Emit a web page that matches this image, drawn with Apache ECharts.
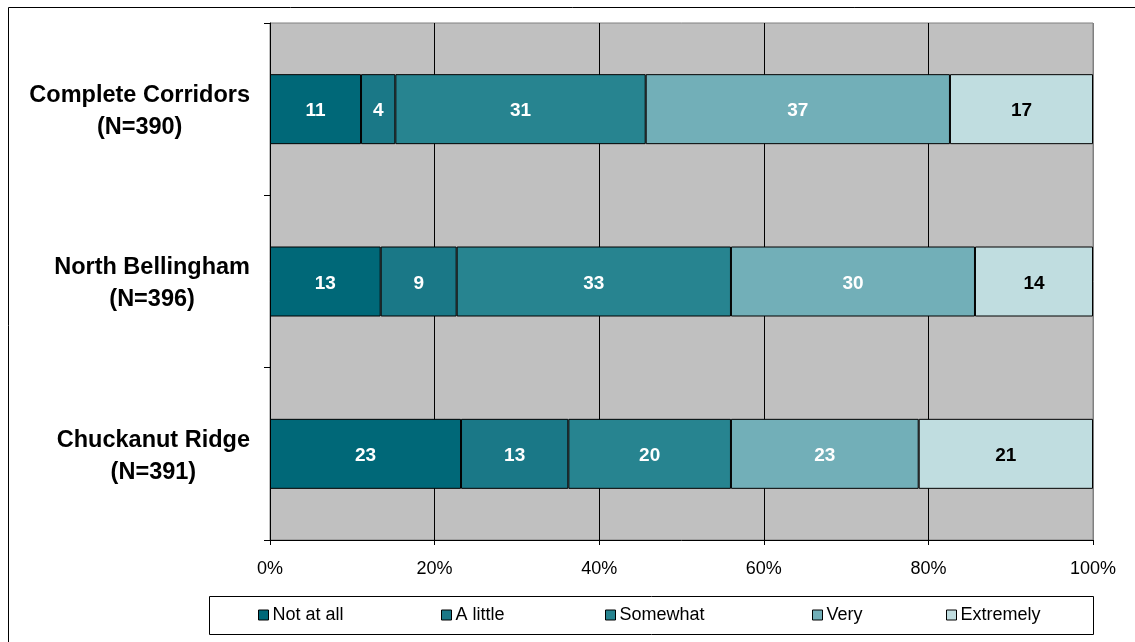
<!DOCTYPE html>
<html>
<head>
<meta charset="utf-8">
<script src="https://cdn.jsdelivr.net/npm/echarts@6/dist/echarts.min.js"></script>
<style>
html,body{margin:0;padding:0;background:#fff;}
#chart{width:1135px;height:642px;}
</style>
</head>
<body>
<div id="chart"></div>
<script>
// Categories (top to bottom)
var categories = ['Complete Corridors\n(N=390)', 'North Bellingham\n(N=396)', 'Chuckanut Ridge\n(N=391)'];
var seriesNames = ['Not at all', 'A little', 'Somewhat', 'Very', 'Extremely'];

// Bar shares (percent)
var notAtAll  = [11.06, 13.45, 23.21];
var aLittle   = [4.17, 9.23, 13.04];
var somewhat  = [30.42, 33.33, 19.76];
var very      = [36.97, 29.65, 22.81];
var extremely = [17.38, 14.34, 21.18];

// Printed data labels
var notAtAllLabels  = [11, 13, 23];
var aLittleLabels   = [4, 9, 13];
var somewhatLabels  = [31, 33, 20];
var veryLabels      = [37, 30, 23];
var extremelyLabels = [17, 14, 21];

// X-axis ticks
var xTicks = [0, 20, 40, 60, 80, 100];

var values = [notAtAll, aLittle, somewhat, very, extremely];
var labels = [notAtAllLabels, aLittleLabels, somewhatLabels, veryLabels, extremelyLabels];
var colors = ['#006878', '#1A7887', '#278490', '#72AFB8', '#C0DDE0'];
var labelColors = ['#ffffff', '#ffffff', '#ffffff', '#ffffff', '#000000'];
var legendLefts = [253, 436, 600, 807, 941];

var FONT = "'Liberation Sans', Arial, sans-serif";

var chart = echarts.init(document.getElementById('chart'), null, {renderer: 'canvas'});

var series = seriesNames.map(function (name, i) {
  return {
    name: name,
    type: 'bar',
    stack: 'total',
    barWidth: 70,
    data: values[i],
    itemStyle: {color: colors[i], borderColor: '#000', borderWidth: 1},
    label: {
      show: true,
      position: 'inside',
      offset: [0, 2],
      color: labelColors[i],
      fontFamily: FONT,
      fontWeight: 'bold',
      fontSize: 19,
      formatter: function (p) { return String(labels[i][p.dataIndex]); }
    },
    emphasis: {disabled: true}
  };
});

var legends = seriesNames.map(function (name, i) {
  return {
    data: [name],
    left: legendLefts[i], top: 601,
    itemWidth: 10, itemHeight: 10,
    icon: 'rect',
    itemStyle: {borderColor: '#000', borderWidth: 1},
    textStyle: {fontFamily: FONT, fontSize: 18, color: '#000', padding: [0, 0, 0, -1]},
    selectedMode: false,
    z: 5
  };
});

chart.setOption({
  animation: false,
  backgroundColor: '#ffffff',
  textStyle: {fontFamily: FONT},
  graphic: [
    {type: 'rect', shape: {x: 8.5, y: 7.5, width: 1300, height: 800}, style: {fill: 'none', stroke: '#000', lineWidth: 1}, z: -1},
    {type: 'rect', shape: {x: 209.5, y: 596.5, width: 884, height: 38}, style: {fill: '#fff', stroke: '#000', lineWidth: 1}, z: 0}
  ],
  grid: {
    left: 270, top: 23, right: 42, bottom: 102,
    show: true, backgroundColor: '#C0C0C0', borderColor: '#808080', borderWidth: 1,
    containLabel: false
  },
  legend: legends,
  xAxis: {
    type: 'value',
    min: 0, max: 100, interval: 20,
    axisLine: {show: true, lineStyle: {color: '#000', width: 1}},
    axisTick: {show: true, length: 5, lineStyle: {color: '#000'}},
    axisLabel: {
      fontFamily: FONT, fontSize: 18, color: '#000', margin: 20,
      formatter: function (v) { return xTicks.indexOf(v) >= 0 ? v + '%' : ''; }
    },
    splitLine: {show: true, lineStyle: {color: ['#000', '#000', '#000', '#000', '#000', '#808080'], width: 1}}
  },
  yAxis: {
    type: 'category',
    data: categories,
    inverse: true,
    axisLine: {show: true, lineStyle: {color: '#000', width: 1}},
    axisTick: {show: true, length: 6, lineStyle: {color: '#000'}},
    axisLabel: {
      margin: 20,
      align: 'right',
      padding: [5, 0, 0, 0],
      formatter: function (v) {
        var parts = v.split('\n');
        return '{a|' + parts[0] + '}\n{a|' + parts[1] + '}';
      },
      rich: {
        a: {fontFamily: FONT, fontWeight: 'bold', fontSize: 23.5, color: '#000', align: 'center', lineHeight: 32}
      }
    },
    splitLine: {show: false}
  },
  series: series
});
</script>
</body>
</html>
